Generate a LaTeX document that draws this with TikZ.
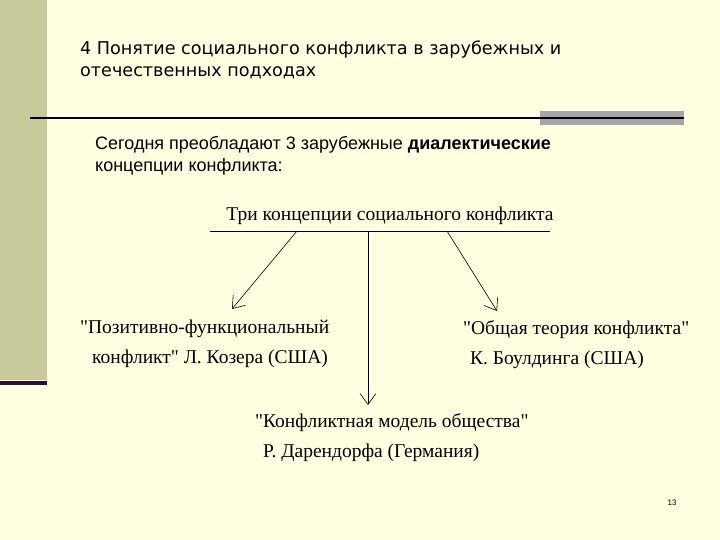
\documentclass[tikz,border=0pt]{standalone}
\usepackage{fontspec}
\setmainfont{Liberation Serif}[Ligatures=TeXOff]
\newfontfamily\headfont{DejaVu Sans}
\newfontfamily\slidefont{Liberation Sans}
\usetikzlibrary{arrows.meta}

\definecolor{slidebg}{RGB}{255,255,225}
\definecolor{barolive}{RGB}{200,201,154}
\definecolor{barline}{RGB}{48,16,48}
\definecolor{bargray}{RGB}{168,164,172}

\begin{document}
\begin{tikzpicture}[
  x=1pt, y=-1pt,
  >={Straight Barb[length=11pt,width=16pt]},
  head/.style={font=\headfont\fontsize{17.6}{22}\selectfont, align=left, inner sep=0pt, anchor=north west},
  lead/.style={font=\slidefont\fontsize{18}{22}\selectfont, align=left, inner sep=0pt, anchor=north west},
  conc/.style={font=\fontsize{19.5}{30}\selectfont, align=left, inner sep=0pt, anchor=north west},
  link/.style={->, line width=0.6pt}
]
% slide background
\fill[slidebg] (0,0) rectangle (720,540);
\fill[barolive] (0,0) rectangle (47,380);
\fill[barline] (0,381) rectangle (47,385);
\fill[bargray] (540,111) rectangle (684,125);
\draw[line width=2pt] (30,118) -- (684,118);

% headings
\node[head] (title) at (80,41) {4 Понятие социального конфликта в зарубежных и\\отечественных подходах};
\node[lead] (intro) at (95,136) {Сегодня преобладают 3 зарубежные \textbf{диалектические}\\концепции конфликта:};

% diagram
\node[conc, anchor=base] (root) at (390,221) {Три концепции социального конфликта};
\coordinate (rail-w) at (210,231);
\coordinate (rail-e) at (550,231);
\coordinate (from-l) at (297,231);
\coordinate (from-m) at (368,231);
\coordinate (from-r) at (447,231);
\coordinate (to-l) at (232,309);
\coordinate (to-r) at (497,311);
\draw[line width=0.6pt] (rail-w) -- (rail-e);

\node[conc] (coser) at (80,320) {"Позитивно-функциональный\\\hspace*{12pt}конфликт" Л. Козера (США)};
\node[conc] (boulding) at (463,320) {"Общая теория конфликта"\\\hspace*{7pt}К. Боулдинга (США)};
\node[conc] (dahrendorf) at (255,413) {"Конфликтная модель общества"\\\hspace*{8pt}Р. Дарендорфа (Германия)};

\draw[link] (from-m) -- ([yshift=8pt]dahrendorf.north -| from-m);
\draw[link] (from-l) -- (to-l);
\draw[link] (from-r) -- (to-r);

\node[font=\slidefont\fontsize{8}{9}\selectfont] (pageno) at (672,503) {13};
\end{tikzpicture}
\end{document}
